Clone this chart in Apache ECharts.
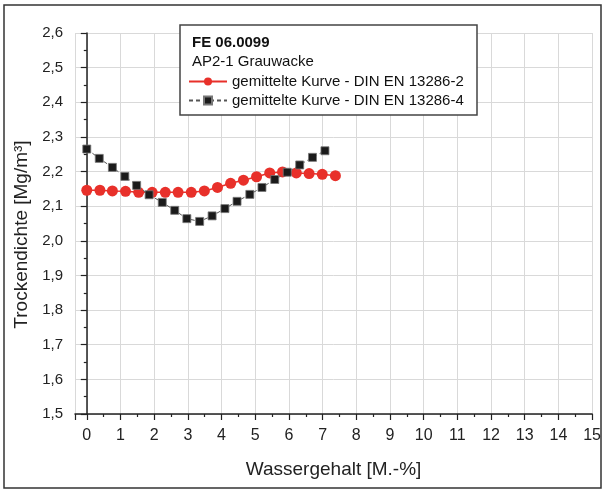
<!DOCTYPE html>
<html>
<head>
<meta charset="utf-8">
<script src="https://cdn.jsdelivr.net/npm/echarts@6/dist/echarts.min.js"></script>
<style>
  html, body { margin: 0; padding: 0; background: #fff; }
  #chart { width: 604px; height: 490px; }
</style>
</head>
<body>
<div id="chart"></div>
<script>
// Wassergehalt [M.-%] / Trockendichte [Mg/m3]
var water_2 = [0, 0.39, 0.76, 1.15, 1.54, 1.94, 2.33, 2.71, 3.10, 3.49, 3.88, 4.27, 4.65, 5.04, 5.43, 5.81, 6.22, 6.60, 6.99, 7.38];
var dens_2 = [2.146, 2.146, 2.144, 2.143, 2.140, 2.140, 2.140, 2.140, 2.140, 2.144, 2.154, 2.166, 2.175, 2.185, 2.196, 2.199, 2.196, 2.194, 2.192, 2.188];
var water_4 = [0, 0.37, 0.76, 1.13, 1.48, 1.85, 2.24, 2.61, 2.97, 3.35, 3.72, 4.10, 4.46, 4.84, 5.20, 5.58, 5.95, 6.32, 6.70, 7.07];
var dens_4 = [2.265, 2.238, 2.212, 2.186, 2.160, 2.133, 2.111, 2.088, 2.064, 2.056, 2.072, 2.093, 2.114, 2.134, 2.154, 2.177, 2.198, 2.219, 2.241, 2.260];
var name_2 = 'gemittelte Kurve - DIN EN 13286-2';
var name_4 = 'gemittelte Kurve - DIN EN 13286-4';

function pairs(xs, ys) {
    return xs.map(function (x, i) { return [x, ys[i]]; });
}

var font = 'Liberation Sans, Arial, sans-serif';
var chart = echarts.init(document.getElementById('chart'));
chart.setOption({
    animation: false,
    textStyle: { fontFamily: font },
    grid: { left: 75, right: 11, top: 33, bottom: 76 },
    graphic: [
        { type: 'rect', shape: { x: 4, y: 5, width: 597, height: 483 },
          style: { fill: 'none', stroke: '#333', lineWidth: 1.5 }, silent: true },
        { type: 'rect', z: 10, shape: { x: 180, y: 25, width: 297, height: 90 },
          style: { fill: '#fff', stroke: '#444', lineWidth: 1.5 }, silent: true },
        { type: 'text', z: 11, left: 192, top: 35,
          style: { text: 'FE 06.0099', font: 'bold 15px ' + font, fill: '#111' } },
        { type: 'text', z: 11, left: 192, top: 54,
          style: { text: 'AP2-1 Grauwacke', font: '15px ' + font, fill: '#111' } }
    ],
    legend: {
        z: 12,
        orient: 'vertical',
        left: 188,
        top: 74,
        itemWidth: 38,
        itemHeight: 10,
        itemGap: 4,
        padding: 0,
        textStyle: { fontSize: 15, color: '#111' },
        data: [name_2, name_4]
    },
    xAxis: {
        type: 'value',
        min: -0.35,
        max: 15,
        splitNumber: 15,
        minInterval: 1,
        maxInterval: 1,
        name: 'Wassergehalt [M.-%]',
        nameLocation: 'middle',
        nameGap: 46,
        nameTextStyle: { fontSize: 19, color: '#222' },
        axisLine: { show: true, onZero: false, lineStyle: { color: '#222', width: 1.5 } },
        axisTick: { show: true, length: 6, lineStyle: { color: '#222', width: 1.2 } },
        minorTick: { show: true, splitNumber: 2, length: 3, lineStyle: { color: '#222', width: 1.2 } },
        axisLabel: {
            fontSize: 16, color: '#222', margin: 14,
            formatter: function (v) { return Math.abs(v - Math.round(v)) < 1e-6 ? String(Math.round(v)) : ''; }
        },
        splitLine: { show: true, lineStyle: { color: '#d9d9d9', width: 1 } }
    },
    yAxis: {
        type: 'value',
        min: 1.5,
        max: 2.6,
        interval: 0.1,
        name: 'Trockendichte [Mg/m\u00b3]',
        nameLocation: 'middle',
        nameGap: 40,
        nameTextStyle: { fontSize: 19, color: '#222', padding: [0, 22, 0, 0] },
        axisLine: { show: true, lineStyle: { color: '#222', width: 1.5 } },
        axisTick: { show: true, length: 6, lineStyle: { color: '#222', width: 1.2 } },
        minorTick: { show: true, splitNumber: 2, length: 3, lineStyle: { color: '#222', width: 1.2 } },
        axisLabel: {
            fontSize: 15, color: '#222', margin: 12,
            formatter: function (v) { return v.toFixed(1).replace('.', ','); }
        },
        splitLine: { show: true, lineStyle: { color: '#d9d9d9', width: 1 } }
    },
    series: [
        {
            name: name_4,
            type: 'line',
            data: pairs(water_4, dens_4),
            symbol: 'rect',
            symbolSize: 8,
            lineStyle: { color: '#555', width: 1, type: [4, 3] },
            itemStyle: { color: '#1b1b1b', borderColor: '#777', borderWidth: 0.8 },
            z: 3
        },
        {
            name: name_2,
            type: 'line',
            data: pairs(water_2, dens_2),
            symbol: 'circle',
            symbolSize: 11,
            lineStyle: { color: '#e8302a', width: 1.5 },
            itemStyle: { color: '#e8302a', borderWidth: 0 },
            z: 2
        }
    ]
});
</script>
</body>
</html>
